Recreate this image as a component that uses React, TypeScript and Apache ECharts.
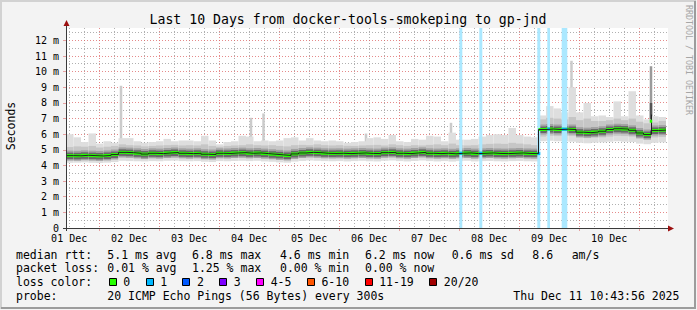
import { useEffect, useRef } from "react";
import * as echarts from "echarts";

// ---------- time frame (hours since 01 Dec 00:00) ----------
const START_HOUR = 10 + 43 / 60 + 56 / 3600; // Dec 1 10:43:56
const SPAN_HOURS = 240; // last 10 days
const STEP_HOURS = 3;

// ---------- axis labels ----------
const dayLabels = ["01 Dec", "02 Dec", "03 Dec", "04 Dec", "05 Dec", "06 Dec", "07 Dec", "08 Dec", "09 Dec", "10 Dec"];
const yTickValues = [0, 1, 2, 3, 4, 5, 6, 7, 8, 9, 10, 11, 12];

// ---------- series values (milliseconds), one value per 3-hour step ----------
const medianMs = [
  4.63, 4.62, 4.65, 4.63, 4.61, 4.64, 4.7,
  4.84, 4.82, 4.78, 4.73, 4.78, 4.76, 4.8, 4.83, 4.78, 4.76,
  4.78, 4.72, 4.7, 4.78, 4.77, 4.8, 4.82, 4.78, 4.8, 4.76,
  4.72, 4.68, 4.64, 4.74, 4.8, 4.84, 4.82, 4.78, 4.77, 4.78,
  4.76, 4.78, 4.8, 4.77, 4.76, 4.82, 4.84, 4.78, 4.76, 4.8,
  4.84, 4.78, 4.76, 4.78, 4.75, 4.78, 4.8, 4.76, 4.78, 4.8,
  4.77, 4.76, 4.78, 4.8, 4.77, 4.76,
  6.3, 6.33, 6.3, 6.32, 6.3, 6.13, 6.1, 6.14, 6.19, 6.3,
  6.35, 6.33, 6.25, 6.08, 5.98, 6.24, 6.26,
];
const smokeMax = [
  6.0, 5.8, 5.5, 6.05, 5.4, 5.55, 5.45,
  5.75, 5.75, 5.55, 5.45, 5.5, 5.55, 5.7, 5.55, 5.6, 5.6,
  5.55, 5.9, 5.6, 5.35, 5.5, 5.55, 5.9, 5.85, 5.55, 5.6,
  5.55, 5.6, 5.75, 5.8, 5.6, 5.75, 5.6, 5.55, 5.6, 5.55,
  5.45, 5.5, 5.55, 5.75, 5.8, 5.7, 5.95, 5.55, 5.5, 5.7,
  5.65, 5.9, 5.85, 5.55, 6.1, 5.65, 5.65, 5.7, 5.85, 5.95,
  6.0, 5.95, 6.4, 5.95, 5.85, 5.8,
  7.2, 7.8, 7.65, 7.4, 9.0, 7.4, 8.0, 7.15, 7.2, 7.1,
  8.1, 7.15, 8.75, 7.2, 6.95, 7.15, 7.1,
];
const smokeHi = [
  5.18, 5.22, 5.2, 5.25, 5.15, 5.2, 5.25,
  5.35, 5.3, 5.28, 5.22, 5.25, 5.28, 5.3, 5.32, 5.28, 5.3,
  5.28, 5.35, 5.25, 5.2, 5.25, 5.28, 5.3, 5.35, 5.3, 5.28,
  5.3, 5.25, 5.22, 5.3, 5.32, 5.3, 5.35, 5.3, 5.28, 5.3,
  5.26, 5.25, 5.28, 5.3, 5.32, 5.28, 5.35, 5.3, 5.25, 5.3,
  5.28, 5.32, 5.35, 5.3, 5.4, 5.3, 5.28, 5.3, 5.35, 5.38,
  5.4, 5.38, 5.45, 5.4, 5.35, 5.3,
  6.95, 7.05, 7.0, 6.95, 7.1, 6.9, 7.0, 6.85, 6.85, 6.9,
  7.0, 6.9, 7.0, 6.8, 6.7, 6.75, 6.85,
];
const smokeLo = [
  4.38, 4.36, 4.4, 4.38, 4.35, 4.38, 4.42,
  4.5, 4.48, 4.46, 4.45, 4.48, 4.47, 4.5, 4.5, 4.48, 4.46,
  4.48, 4.44, 4.42, 4.48, 4.47, 4.49, 4.5, 4.48, 4.5, 4.46,
  4.44, 4.4, 4.38, 4.45, 4.49, 4.52, 4.5, 4.48, 4.47, 4.48,
  4.46, 4.48, 4.5, 4.47, 4.46, 4.5, 4.52, 4.48, 4.46, 4.49,
  4.52, 4.48, 4.46, 4.48, 4.45, 4.48, 4.5, 4.46, 4.48, 4.49,
  4.47, 4.46, 4.48, 4.49, 4.47, 4.46,
  5.85, 5.9, 5.88, 5.9, 5.88, 5.78, 5.75, 5.78, 5.8, 5.85,
  5.9, 5.88, 5.85, 5.7, 5.65, 5.8, 5.82,
];
const smokeMin = [
  4.17, 4.18, 4.2, 4.17, 4.16, 4.18, 4.22,
  4.3, 4.28, 4.27, 4.26, 4.28, 4.27, 4.3, 4.31, 4.28, 4.27,
  4.28, 4.24, 4.22, 4.28, 4.27, 4.29, 4.3, 4.28, 4.3, 4.26,
  4.24, 4.2, 4.18, 4.25, 4.29, 4.32, 4.3, 4.28, 4.27, 4.28,
  4.26, 4.28, 4.3, 4.27, 4.26, 4.3, 4.32, 4.28, 4.26, 4.29,
  4.32, 4.28, 4.26, 4.28, 4.25, 4.28, 4.3, 4.26, 4.28, 4.29,
  4.27, 4.26, 4.28, 4.29, 4.27, 4.26,
  5.55, 5.58, 5.55, 5.56, 5.52, 5.45, 5.42, 5.46, 5.48, 5.52,
  5.55, 5.52, 5.5, 5.4, 5.36, 5.45, 5.48,
];
// narrow smoke spikes: [hour, top ms, top of dark core (0 = none)]
const spikes = [
  [32.73, 9.1, 0],
  [84.73, 7.05, 0],
  [89.73, 7.33, 0],
  [130.73, 6.04, 0],
  [164.73, 6.73, 0],
  [212.93, 10.7, 0],
  [244.73, 10.35, 8.0],
];
// narrow median excursion: [hour, median ms, line peak ms]
const medianSpikes = [[244.73, 6.83, 7.26]];
// packet loss events: [start hour, end hour, lost pings of 20]
const lossEvents = [
  [168.05, 169.25, 1],
  [176.05, 177.25, 1],
  [199.25, 200.45, 1],
  [203.25, 204.33, 1],
  [209.01, 211.25, 1],
];

// ---------- legend ----------
const rttStats = ["5.1 ms avg", "6.8 ms max", "4.6 ms min", "6.2 ms now", "0.6 ms sd", "8.6", "am/s"];
const lossStats = ["0.01 % avg", "1.25 % max", "0.00 % min", "0.00 % now"];
const lossLabels = ["0", "1", "2", "3", "4-5", "6-10", "11-19", "20/20"];
const lossThresholds = [0, 1, 2, 3, 5, 10, 19, 20];
const lossColors = ["#26ff00", "#00b8ff", "#0059ff", "#7e00ff", "#ff00ff", "#ff5500", "#ff0000", "#a10000"];
const probeText = "20 ICMP Echo Pings (56 Bytes) every 300s";
const stampText = "Thu Dec 11 10:43:56 2025";
const titleText = "Last 10 Days from docker-tools-smokeping to gp-jnd";

// ---------- layout ----------
const MONO = '"DejaVu Sans Mono", monospace';
const PLOT_L = 66;
const PLOT_T = 28;
const PLOT_H = 200;
const PX_PER_HOUR = 2.5;
const PX_PER_MS = 15.63;
const Y_MAX = PLOT_H / PX_PER_MS;
const X_MAX = START_HOUR + SPAN_HOURS + 0.8;

function lossColorFor(n: number) {
  let idx = 0;
  for (let i = 0; i < lossThresholds.length; i++) if (n >= lossThresholds[i]) idx = i;
  return lossColors[idx];
}
function lighten(hex: string, k: number) {
  const r = parseInt(hex.slice(1, 3), 16), g = parseInt(hex.slice(3, 5), 16), b = parseInt(hex.slice(5, 7), 16);
  const m = (c: number) => Math.round(255 - (255 - c) * k);
  return `rgb(${m(r)},${m(g)},${m(b)})`;
}
function stepIndex(h: number) {
  return Math.max(0, Math.min(medianMs.length - 1, Math.floor((h - START_HOUR) / STEP_HOURS)));
}

function buildOption() {
  const smokeData = medianMs.map((m, i) => [
    START_HOUR + i * STEP_HOURS,
    START_HOUR + (i + 1) * STEP_HOURS,
    smokeMin[i], smokeLo[i], smokeHi[i], smokeMax[i], m,
  ]);
  const medianLine = medianMs.map((m, i) => [START_HOUR + i * STEP_HOURS, m]);
  medianLine.push([START_HOUR + medianMs.length * STEP_HOURS, medianMs[medianMs.length - 1]]);
  const spikeData = spikes.map((s) => [s[0], s[1], s[2], medianMs[stepIndex(s[0])]]);
  const lossMedData = lossEvents.map((e) => [e[0], e[1], e[2], medianMs[stepIndex(e[0] + 0.1)]]);
  const medSpikeData = medianSpikes.map((s) => [s[0], s[1], s[2], medianMs[stepIndex(s[0])]]);

  const gridMinor: number[][] = [];
  const gridMajor: number[][] = [];
  for (let h = 12; h < X_MAX; h += 6) (h % 24 === 0 ? gridMajor : gridMinor).push([h, 0]);
  for (let v = 0.5; v < Y_MAX; v += 0.5) (Number.isInteger(v) ? gridMajor : gridMinor).push([v, 1]);

  const gridRender = (color: string) => (params: any, api: any) => {
    const cs = params.coordSys;
    const v = api.value(0);
    const orient = api.value(1);
    let shape;
    if (orient === 0) {
      const x = Math.floor(api.coord([v, 0])[0]) + 0.5;
      shape = { x1: x, y1: cs.y, x2: x, y2: cs.y + cs.height };
    } else {
      const y = Math.floor(api.coord([START_HOUR, v])[1]) + 0.5;
      shape = { x1: cs.x, y1: y, x2: cs.x + cs.width, y2: y };
    }
    return { type: "line", shape, silent: true, style: { stroke: color, lineWidth: 1, lineDash: [1, 2] } };
  };

  const rect = (x: number, y: number, w: number, h: number, fill: string) => ({
    type: "rect", shape: { x, y, width: w, height: h }, style: { fill }, silent: true,
  });

  const graphics: any[] = [];
  // frame
  graphics.push({ type: "polyline", z: 100, silent: true, shape: { points: [[1, 309], [1, 1], [696, 1]] }, style: { stroke: "#d2d2d2", lineWidth: 2, fill: null } });
  graphics.push({ type: "polyline", z: 100, silent: true, shape: { points: [[1, 308], [695, 308], [695, 1]] }, style: { stroke: "#9c9c9c", lineWidth: 2, fill: null } });
  // axes + arrows
  graphics.push({ type: "line", z: 100, silent: true, shape: { x1: 66.5, y1: 231, x2: 66.5, y2: 24 }, style: { stroke: "#3a3a3a", lineWidth: 1 } });
  graphics.push({ type: "line", z: 100, silent: true, shape: { x1: 63, y1: 228.5, x2: 669, y2: 228.5 }, style: { stroke: "#3a3a3a", lineWidth: 1 } });
  graphics.push({ type: "polygon", z: 101, silent: true, shape: { points: [[63.5, 26], [66.5, 20], [69.5, 26]] }, style: { fill: "#9c1010" } });
  graphics.push({ type: "polygon", z: 101, silent: true, shape: { points: [[668, 225.5], [674, 228.5], [668, 231.5]] }, style: { fill: "#9c1010" } });

  const txt = (text: string, x: number, y: number, size: number, extra: any = {}) => ({
    type: "text", x, y, silent: true, z: 100, ...extra,
    style: { text, fill: extra.fill || "#000", fontFamily: MONO, fontSize: size, align: extra.align || "left", verticalAlign: "middle" },
  });
  graphics.push(txt(titleText, 348, 19, 13.2, { align: "center" }));
  graphics.push(txt("Seconds", 11, 126, 11.5, { align: "center", rotation: Math.PI / 2 }));
  graphics.push(txt("RRDTOOL / TOBI OETIKER", 688.5, 60, 8.3, { align: "center", rotation: -Math.PI / 2, fill: "#a6a6a6" }));

  const ROW = [254.5, 268, 282, 295.5];
  const rttX = [107.3, 192, 280, 365, 451.7, 532.3, 571.7];
  const lossX = [107.3, 192, 280, 365];
  graphics.push(txt("median rtt:", 16, ROW[0], 11.5));
  rttStats.forEach((s, i) => graphics.push(txt(s, rttX[i], ROW[0], 11.5)));
  graphics.push(txt("packet loss:", 16, ROW[1], 11.5));
  lossStats.forEach((s, i) => graphics.push(txt(s, lossX[i], ROW[1], 11.5)));
  graphics.push(txt("loss color:", 16, ROW[2], 11.5));
  let bx = 108.7;
  lossLabels.forEach((lab, i) => {
    graphics.push({ type: "rect", z: 100, silent: true, shape: { x: Math.round(bx) + 0.5, y: 278.5, width: 7, height: 7 }, style: { fill: lossColors[i], stroke: "#000", lineWidth: 1 } });
    const lx = bx + 14.6;
    graphics.push(txt(lab, lx, ROW[2], 11.5));
    bx = lx + lab.length * 6.95 + 15.3;
  });
  graphics.push(txt("probe:", 16, ROW[3], 11.5));
  graphics.push(txt(probeText, 107.3, ROW[3], 11.5));
  graphics.push(txt(stampText, 513.3, ROW[3], 11.5));

  return {
    animation: false,
    backgroundColor: "#f3f3f3",
    grid: {
      left: PLOT_L, top: PLOT_T, width: (X_MAX - START_HOUR) * PX_PER_HOUR, height: PLOT_H,
      show: true, backgroundColor: "#ffffff", borderWidth: 0, containLabel: false, outerBoundsMode: "none",
    },
    xAxis: {
      type: "value", min: START_HOUR, max: X_MAX,
      axisLine: { show: false }, splitLine: { show: false },
      axisTick: { show: true, customValues: dayLabels.map((_, i) => 24 * (i + 1)), length: 3, lineStyle: { color: "#e7a0a0" } },
      axisLabel: {
        customValues: dayLabels.map((_, i) => 12 + 24 * i),
        formatter: (v: number) => dayLabels[Math.round((v - 12) / 24)] || "",
        margin: 5, fontFamily: MONO, fontSize: 10, color: "#000",
      },
    },
    yAxis: {
      type: "value", min: 0, max: Y_MAX,
      axisLine: { show: false }, splitLine: { show: false },
      axisTick: { show: true, customValues: yTickValues, length: 3, lineStyle: { color: "#e7a0a0" } },
      axisLabel: {
        customValues: yTickValues,
        formatter: (v: number) => (v === 0 ? "0" : `${v} m`),
        margin: 7, fontFamily: MONO, fontSize: 10, color: "#000",
      },
    },
    graphic: { elements: graphics },
    series: [
      {
        type: "custom", name: "grid-minor", silent: true, data: gridMinor,
        renderItem: gridRender("rgba(150,150,150,0.75)"),
      },
      {
        type: "custom", name: "grid-major", silent: true, data: gridMajor,
        renderItem: gridRender("rgba(220,100,100,0.75)"),
      },
      {
        type: "custom", name: "spikes", silent: true, data: spikeData,
        renderItem: (params: any, api: any) => {
          const x = api.coord([api.value(0), 0])[0];
          const yTop = api.coord([START_HOUR, api.value(1)])[1];
          const yBase = api.coord([START_HOUR, api.value(3)])[1];
          const dark = api.value(2);
          const children: any[] = [rect(x - 1.25, yTop, 2.5, yBase - yTop, dark ? "#9a9a9a" : "#cbcbcb")];
          if (dark) {
            const yD = api.coord([START_HOUR, dark])[1];
            children.push(rect(x - 1.25, yD, 2.5, yBase - yD, "#555555"));
          }
          return { type: "group", children };
        },
      },
      {
        type: "custom", name: "smoke", silent: true, data: smokeData,
        renderItem: (params: any, api: any) => {
          const x0 = api.coord([api.value(0), 0])[0];
          const x1 = api.coord([api.value(1), 0])[0];
          const y = (k: number) => api.coord([START_HOUR, api.value(k)])[1];
          const yMin = y(2), yLo = y(3), yHi = y(4), yMax = y(5), yMd = y(6);
          const w = x1 - x0;
          return {
            type: "group",
            children: [
              rect(x0, yMax, w, yMin - yMax, "#dedede"),
              rect(x0, yHi, w, yLo - yHi, "#c6c6c6"),
              rect(x0, yMd - 5, w, 10, "#a2a2a2"),
              rect(x0, yMd - 3, w, 6.5, "#676767"),
            ],
          };
        },
      },
      {
        type: "custom", name: "loss-bars", silent: true, data: lossEvents,
        renderItem: (params: any, api: any) => {
          const cs = params.coordSys;
          const x0 = api.coord([api.value(0), 0])[0];
          const x1 = api.coord([api.value(1), 0])[0];
          return rect(x0, cs.y, x1 - x0, cs.height, lighten(lossColorFor(api.value(2)), 0.33));
        },
      },
      {
        type: "line", name: "median-line", silent: true, step: "end", data: medianLine,
        symbol: "none", lineStyle: { color: "#202020", width: 1 },
      },
      {
        type: "custom", name: "median", silent: true, data: smokeData,
        renderItem: (params: any, api: any) => {
          const x0 = api.coord([api.value(0), 0])[0];
          const x1 = api.coord([api.value(1), 0])[0];
          const yMd = api.coord([START_HOUR, api.value(6)])[1];
          return rect(x0, yMd - 1.5, x1 - x0, 3, lossColors[0]);
        },
      },
      {
        type: "custom", name: "median-loss", silent: true, data: lossMedData,
        renderItem: (params: any, api: any) => {
          const x0 = api.coord([api.value(0), 0])[0];
          const x1 = api.coord([api.value(1), 0])[0];
          const yMd = api.coord([START_HOUR, api.value(3)])[1];
          return rect(x0, yMd - 1.5, x1 - x0, 3, lossColorFor(api.value(2)));
        },
      },
      {
        type: "custom", name: "median-spike", silent: true, data: medSpikeData,
        renderItem: (params: any, api: any) => {
          const x = api.coord([api.value(0), 0])[0];
          const yV = api.coord([START_HOUR, api.value(1)])[1];
          const yP = api.coord([START_HOUR, api.value(2)])[1];
          const yB = api.coord([START_HOUR, api.value(3)])[1];
          return {
            type: "group",
            children: [
              { type: "line", silent: true, shape: { x1: Math.round(x) + 0.5, y1: yB, x2: Math.round(x) + 0.5, y2: yP }, style: { stroke: "#202020", lineWidth: 1 } },
              rect(x - 1.25, yV - 1.5, 2.5, 3, lossColors[0]),
            ],
          };
        },
      },
    ],
  };
}

export default function App() {
  const ref = useRef<HTMLDivElement>(null);
  useEffect(() => {
    if (!ref.current) return;
    const chart = echarts.init(ref.current, undefined, { renderer: "svg", width: 697, height: 310 });
    chart.setOption(buildOption() as any);
    return () => chart.dispose();
  }, []);
  return <div ref={ref} style={{ position: "absolute", left: 0, top: 0, width: 697, height: 310 }} />;
}
